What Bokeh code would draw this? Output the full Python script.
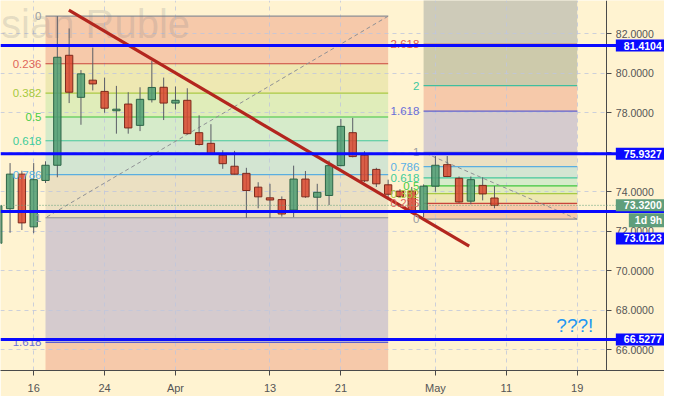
from bokeh.plotting import figure
from bokeh.models import Range1d, FixedTicker, NumeralTickFormatter, Span, Label
from bokeh.core.properties import value
from bokeh.embed import file_html
from bokeh.resources import INLINE

# ---------------- data ----------------
bar_index = list(range(-3, 40))
opens = [71.40, 73.15, 74.90, 72.23, 74.58, 75.35, 80.92, 78.79, 79.66, 79.09,
         78.11, 78.45, 77.37, 78.67, 79.30, 78.50, 78.64, 77.00, 76.46, 75.86,
         75.30, 74.94, 74.24, 73.70, 73.61, 73.08, 74.65, 73.73, 73.82, 75.33,
         77.00, 75.86, 75.14, 74.36, 74.04, 74.04, 73.04, 74.29, 75.38, 74.69,
         73.53, 74.33, 73.69]
highs = [73.50, 75.46, 75.07, 75.46, 75.55, 82.90, 82.28, 80.17, 81.31, 79.79,
         79.37, 79.05, 79.30, 80.63, 79.79, 79.34, 79.25, 77.88, 77.43, 76.11,
         76.08, 75.22, 74.49, 74.41, 73.77, 75.33, 75.06, 74.41, 75.59, 77.69,
         77.75, 76.06, 75.22, 74.62, 74.14, 74.25, 74.38, 75.82, 75.82, 74.78,
         74.78, 74.74, 74.30]
lows = [70.90, 71.93, 72.07, 71.91, 74.45, 74.74, 78.50, 77.40, 79.14, 78.01,
        76.95, 76.95, 77.08, 78.53, 77.64, 78.17, 76.92, 76.35, 75.90, 75.17,
        74.88, 72.69, 73.17, 72.69, 72.75, 72.72, 73.70, 73.04, 73.33, 75.30,
        75.75, 74.50, 74.25, 73.69, 73.69, 72.90, 72.72, 74.01, 74.75, 73.45,
        73.37, 73.57, 73.17]
closes = [73.30, 74.90, 72.43, 74.62, 75.35, 80.82, 79.05, 79.98, 79.47, 78.24,
          78.19, 77.24, 78.69, 79.29, 78.50, 78.64, 76.95, 76.40, 75.95, 75.43,
          74.90, 74.07, 73.75, 73.59, 72.88, 74.65, 73.75, 73.98, 75.33, 77.32,
          75.79, 74.56, 74.41, 73.88, 73.77, 72.96, 74.29, 75.35, 74.78, 73.49,
          74.62, 73.90, 73.32]

tick_index = [0, 6, 12, 20, 26, 34, 40, 46]
tick_labels = ["16", "24", "Apr", "13", "21", "May", "11", "19"]
price_ticks = [66, 68, 70, 72, 74, 76, 78, 80, 82]

key_levels = [81.4104, 75.9327, 73.0123, 66.5277]
last_price = 73.32
countdown = "1d 9h"

# fib retracement 1: anchor bars and prices for level 0 and level 1
fib1_idx = [30, 1]
fib1_price = [82.90, 72.69]
fib1_levels = [0, 0.236, 0.382, 0.5, 0.618, 0.786, 1, 1.618, 2.618]
# fib retracement 2
fib2_idx = [46, 33]
fib2_price = [72.62, 76.00]
fib2_levels = [0, 0.236, 0.382, 0.5, 0.618, 0.786, 1, 1.618, 2, 2.618, 3.618]

trend_idx = [2.975, 36.86]
trend_price = [83.21, 71.25]

watermark = "sian Ruble"
note_text = "???!"

# ---------------- styles ----------------
BG = "#fff3d1"
X_START, X_SCALE_EDGE, X_END = -2.81, 48.51, 53.39
Y_START, Y_END = 64.954, 83.695

zone_col = {0.236: "#f6c9aa", 0.382: "#eee8b2", 0.5: "#e0edba", 0.618: "#d6ebca",
            0.786: "#d3e5d2", 1: "#ebe0c2", 1.618: "#d5cbce", 2: "#f6c9aa",
            2.618: "#f6c9aa", 3.618: "#cecbb9"}
zone2_col = dict(zone_col)
zone2_col[2.618] = "#cdcaab"
line_col = {0: "#8c8e94", 0.236: "#c9453b", 0.382: "#a9c943", 0.5: "#3dc63d",
            0.618: "#45c79c", 0.786: "#5aaee0", 1: "#8c8e94", 1.618: "#5b5fd0",
            2: "#3fbf9f", 2.618: "#c0392b", 3.618: "#9c27b0"}
lab_col = {0: "#9a9ca2", 0.236: "#e0655a", 0.382: "#a7c940", 0.5: "#45cc45",
           0.618: "#40cc9a", 0.786: "#5bb0e6", 1: "#9a9ca2", 1.618: "#6a6ed8",
           2: "#40c8a0", 2.618: "#e05a4e", 3.618: "#9c27b0"}
# vertical shift (px) of price-scale boxes that TradingView pushes apart
box_shift = {81.4104: 0, 75.9327: 0, 73.0123: -27, 66.5277: 0}

FONT = "Liberation Sans"

p = figure(width=664, height=396, output_backend="svg", toolbar_location=None,
           x_range=Range1d(X_START, X_END), y_range=Range1d(Y_START, Y_END),
           y_axis_location="right",
           min_border_left=0, min_border_top=0, min_border_right=0, min_border_bottom=24)
p.background_fill_color = BG
p.border_fill_color = BG
p.outline_line_color = None

# axes
p.xaxis.ticker = FixedTicker(ticks=tick_index)
p.xaxis.major_label_overrides = {t: l for t, l in zip(tick_index, tick_labels)}
p.yaxis.ticker = FixedTicker(ticks=price_ticks)
p.yaxis.formatter = NumeralTickFormatter(format="0.0000")
p.yaxis.fixed_location = X_SCALE_EDGE
for ax in (p.xaxis, p.yaxis):
    ax.axis_line_color = "#4a4a4a"
    ax.major_tick_line_color = "#4a4a4a"
    ax.major_tick_out = 5
    ax.major_tick_in = 0
    ax.minor_tick_line_color = None
    ax.major_label_text_color = "#555555"
    ax.major_label_text_font = FONT
p.xaxis.major_label_text_font_size = "11px"
p.yaxis.major_label_text_font_size = "10.5px"
p.xaxis.major_label_standoff = 6
p.yaxis.major_label_standoff = 4
for g in (p.xgrid, p.ygrid):
    g.grid_line_color = "#bfc6dc"
    g.grid_line_dash = "4 4"
    g.grid_line_alpha = 0.8


def draw_fib(idx, price, levels, zcol, show_levels):
    left, right = min(idx), max(idx)
    p0, p1 = price
    vals = [p0 + L * (p1 - p0) for L in levels]
    qb, qt, qc = [], [], []
    for i in range(len(levels) - 1):
        a, b = vals[i], vals[i + 1]
        qb.append(min(a, b)); qt.append(max(a, b)); qc.append(zcol[levels[i + 1]])
    p.quad(left=[left] * len(qb), right=[right] * len(qb), bottom=qb, top=qt,
           fill_color=qc, line_color=None, level="image")
    sl = [L for L in levels if L in show_levels]
    sv = [p0 + L * (p1 - p0) for L in sl]
    p.segment(x0=[left] * len(sl), x1=[right] * len(sl), y0=sv, y1=sv,
              line_color=[line_col[L] for L in sl], line_width=1.2)
    p.line(x=idx, y=price, line_color="#8f9094", line_width=1, line_dash="4 3")
    return sl, sv


sl1, sv1 = draw_fib(fib1_idx, fib1_price, fib1_levels, zone_col,
                    [0, 0.236, 0.382, 0.5, 0.618, 0.786, 1, 1.618])
sl2, sv2 = draw_fib(fib2_idx, fib2_price, fib2_levels, zone2_col,
                    [0, 0.236, 0.382, 0.5, 0.618, 0.786, 1, 1.618, 2, 2.618])

# price-scale strip (covers grid lines right of the scale edge)
p.quad(left=[X_SCALE_EDGE], right=[X_END], bottom=[Y_START], top=[Y_END],
       fill_color=BG, line_color=None)

# watermark
p.text(x=[X_START + 0.05], y=[Y_END], text=[watermark], text_align="left",
       text_baseline="top", text_font=value(FONT), text_font_size="40px",
       text_color="#787b86", text_alpha=0.2, y_offset=1)

# candles
up = [c >= o for o, c in zip(opens, closes)]
body_top = [max(o, c) for o, c in zip(opens, closes)]
body_bot = [min(o, c) for o, c in zip(opens, closes)]
fill = ["#4f9c72" if u else "#d9472f" for u in up]
edge = ["#2c6446" if u else "#7d2a1c" for u in up]
p.segment(x0=bar_index, x1=bar_index, y0=lows, y1=highs, line_color="#5a5d66", line_width=1)
p.vbar(x=bar_index, width=0.62, top=body_top, bottom=body_bot,
       fill_color=fill, fill_alpha=0.85, line_color=edge, line_width=1)

# trend line
p.line(x=trend_idx, y=trend_price, line_color="#b3261e", line_width=3.2)

# fib labels
def fib_labels(sl, sv, x):
    p.text(x=[x] * len(sl), y=sv, text=[("%g" % L) for L in sl],
           text_align="right", text_baseline="middle", text_font=value(FONT),
           text_font_size="11.5px", text_color=[lab_col[L] for L in sl])

fib_labels(sl1, sv1, 0.66)
fib_labels(sl2, sv2, 32.64)

# last price dotted line
p.add_layout(Span(location=last_price, dimension="width", line_color="#5f9e7c",
                  line_width=1, line_dash="1 2"))
# key horizontal levels
for lv in key_levels:
    p.add_layout(Span(location=lv, dimension="width", line_color="#0a0aff", line_width=3))

for lv in key_levels:
    p.add_layout(Label(x=X_SCALE_EDGE, y=lv, text="%.4f" % lv, x_offset=9,
                       y_offset=box_shift[lv], text_baseline="middle",
                       text_color="white", text_font=FONT, text_font_size="10.5px",
                       text_font_style="bold", background_fill_color="#0a0aff",
                       padding=dict(left=8, right=14, top=2, bottom=2)))
p.add_layout(Label(x=X_SCALE_EDGE, y=last_price, text="%.4f" % last_price, x_offset=9,
                   text_baseline="middle", text_color="white", text_font=FONT,
                   text_font_size="10.5px", text_font_style="bold",
                   background_fill_color="#5f9e7c",
                   padding=dict(left=8, right=14, top=2, bottom=2)))
p.add_layout(Label(x=X_SCALE_EDGE, y=last_price, text=countdown, x_offset=22, y_offset=-15,
                   text_baseline="middle", text_color="white", text_font=FONT,
                   text_font_size="10.5px", text_font_style="bold",
                   background_fill_color="#5f9e7c",
                   padding=dict(left=6, right=4, top=1, bottom=1)))

# note
p.add_layout(Label(x=45.8, y=67.23, text=note_text, text_align="center",
                   text_baseline="middle", text_color="#2196f3", text_font=FONT,
                   text_font_size="19px"))

open("out.html", "w").write(file_html(p, INLINE))
